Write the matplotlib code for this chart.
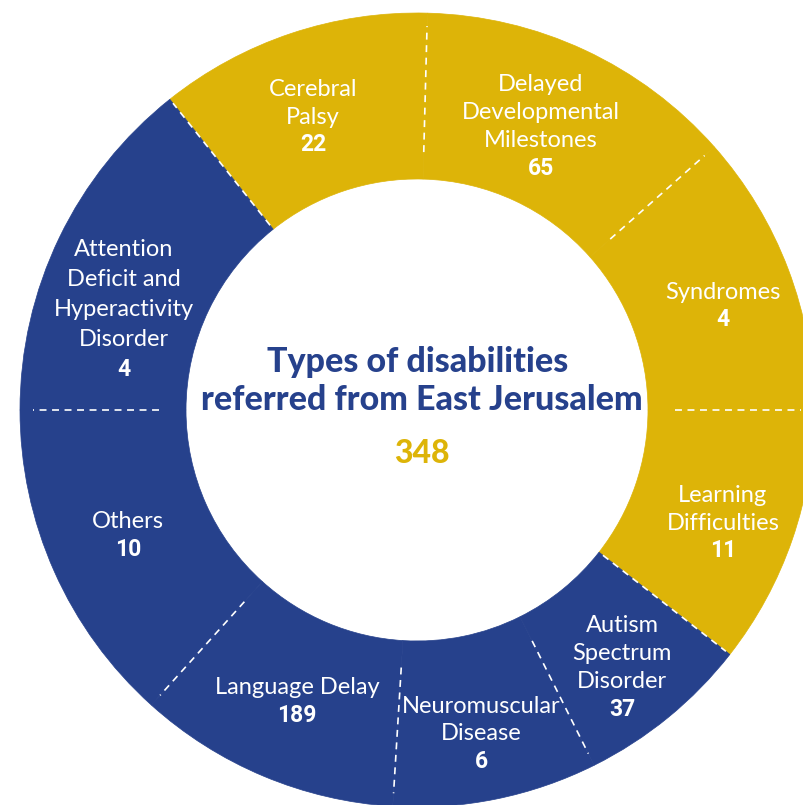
import numpy as np
import matplotlib
matplotlib.use("Agg")
import matplotlib.pyplot as plt
from matplotlib.patches import Wedge

# data
categories = ["Cerebral\nPalsy", "Delayed\nDevelopmental\nMilestones", "Syndromes",
              "Learning\nDifficulties", "Autism\nSpectrum\nDisorder",
              "Neuromuscular\nDisease", "Language Delay", "Others",
              "Attention\nDeficit and\nHyperactivity\nDisorder"]
values = [22, 65, 4, 11, 37, 6, 189, 10, 4]
groups = ["y", "y", "y", "y", "b", "b", "b", "b", "b"]
title = "Types of disabilities\nreferred from East Jerusalem"
total = 348

# layout (pixel coords, y down)
W, H = 804, 805
cx, cy = 417, 410
r_out, r_in = 397, 231
# segment boundaries in degrees (counter-clockwise), first = start of Cerebral Palsy
bounds = [128.5, 88.5, 41.5, 0, -38, -63.5, -93.5, -132, -180, -231.5]
label_xy = [(313, 117), (541, 126), (723, 306), (723, 523), (622, 667),
            (481, 734), (297, 702), (128, 535), (124, 309)]
line_gap = [27.5, 28, 27, 27.5, 28, 27.5, 28, 28, 30]

YELLOW = "#DDB408"
BLUE = "#26418C"
colors = {"y": YELLOW, "b": BLUE}

plt.rcParams["lines.scale_dashes"] = False

fig = plt.figure(figsize=(W / 100, H / 100), dpi=100)
ax = fig.add_axes([0, 0, 1, 1])
ax.set_xlim(0, W)
ax.set_ylim(0, H)
ax.set_aspect("equal")
ax.axis("off")

c = (cx, H - cy)
for i, g in enumerate(groups):
    a1, a0 = bounds[i], bounds[i + 1]
    ax.add_patch(Wedge(c, r_out, a0, a1, width=r_out - r_in,
                       facecolor=colors[g], edgecolor=colors[g], lw=0.5))

# dashed separators
for i in range(len(bounds) - 1):
    ang = np.deg2rad(bounds[i])
    if i == 0 or groups[i] != groups[i - 1]:
        r0, r1 = 236, 392
    else:
        r0, r1 = 258, 384
    xs = [c[0] + r0 * np.cos(ang), c[0] + r1 * np.cos(ang)]
    ys = [c[1] + r0 * np.sin(ang), c[1] + r1 * np.sin(ang)]
    ax.plot(xs, ys, color="white", lw=1.2, dashes=(5, 4))

# labels
for name, val, (x, y), gap in zip(categories, values, label_xy, line_gap):
    lines = name.split("\n") + [str(val)]
    n = len(lines)
    for k, s in enumerate(lines):
        yy = y + (k - (n - 1) / 2) * gap
        bold = k == n - 1
        ax.text(x, H - yy, s, ha="center", va="center", color="white",
                fontsize=16.5 if bold else 17,
                family="Roboto" if bold else "Lato",
                fontweight="bold" if bold else "normal")

# centre text
t1, t2 = title.split("\n")
ax.text(418, H - 362, t1, ha="center", va="center", color=BLUE,
        fontsize=24.5, family="Lato", fontweight="black")
ax.text(422, H - 400, t2, ha="center", va="center", color=BLUE,
        fontsize=24.5, family="Lato", fontweight="black")
ax.text(422, H - 453, str(total), ha="center", va="center", color=YELLOW,
        fontsize=23, family="Lato", fontweight="black")

fig.savefig("out.png", dpi=100, facecolor="white")
